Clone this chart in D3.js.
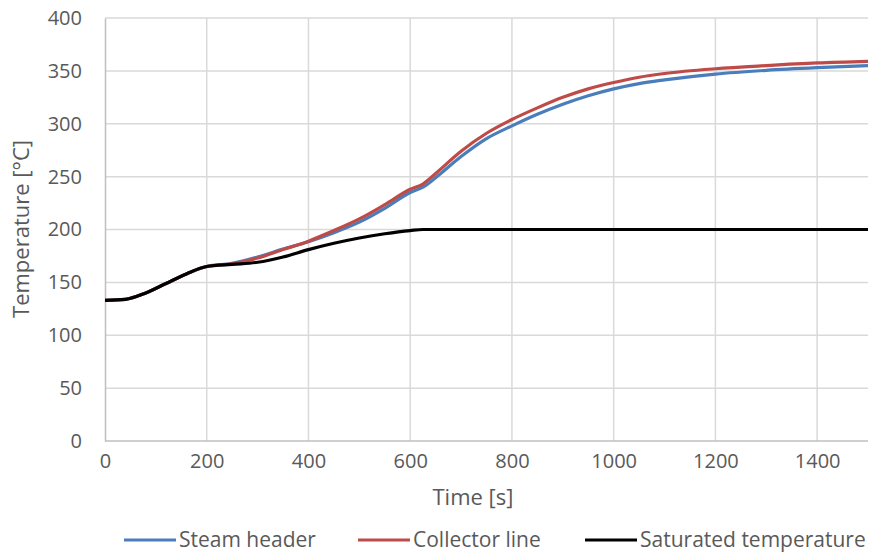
<!DOCTYPE html>
<html lang="en">
  <head>
    <meta charset="utf-8">
    <title>Temperature vs time</title>
    <script src="https://cdn.jsdelivr.net/npm/d3@7"></script>
    <style>
      body { margin: 0; background: #fff; }
      text { font-family: "Open Sans", sans-serif; fill: #595959; }
    </style>
  </head>
  <body>
    <div class="chart"></div>
    <script type="text/javascript">
      // data
      var times     = [0, 40, 80, 120, 160, 200, 250, 300, 350, 400, 450, 500, 550, 600, 625, 650, 700, 750, 800, 850, 900, 950, 1000, 1050, 1100, 1200, 1300, 1400, 1500];
      var steamHeader = [133, 134, 140, 149, 158, 165, 168, 174, 181.5, 188.5, 197, 207, 220, 235, 240, 249, 269, 286, 298, 309, 318.5, 326.5, 333, 338, 341.5, 347, 350.5, 353, 355];
      var collector   = [133, 134, 140, 149, 158, 165, 167.5, 173, 181, 189, 199, 210, 223.5, 238, 243, 253, 274, 291, 304, 315, 325, 333, 339, 344, 347.5, 352, 355, 357.5, 359];
      var saturated   = [133, 134, 140, 149, 158, 165, 167, 169, 174, 181, 187, 192, 196, 199, 200, 200, 200, 200, 200, 200, 200, 200, 200, 200, 200, 200, 200, 200, 200];
      var seriesNames = ["Steam header", "Collector line", "Saturated temperature"];
      var xTicks = [0, 200, 400, 600, 800, 1000, 1200, 1400];
      var yTicks = [0, 50, 100, 150, 200, 250, 300, 350, 400];

      var W = 872, H = 552;
      var margin = {top: 18, right: 2, bottom: 111, left: 105},
          width = W - margin.left - margin.right,
          height = H - margin.top - margin.bottom;

      var svg = d3.select(".chart").append("svg")
          .attr("width", W).attr("height", H);
      var g = svg.append("g")
          .attr("transform", "translate(" + margin.left + "," + margin.top + ")");

      var x = d3.scaleLinear().domain([0, 1500]).range([0, width - 2]);
      var y = d3.scaleLinear().domain([0, 400]).range([height, 0]);

      // grid
      g.append("g").selectAll("line").data(yTicks.slice(1)).enter().append("line")
          .attr("x1", 0).attr("x2", x(1500))
          .attr("y1", function(d) { return y(d); }).attr("y2", function(d) { return y(d); })
          .attr("stroke", "#d9d9d9").attr("stroke-width", 1.5);
      g.append("g").selectAll("line").data(xTicks.slice(1)).enter().append("line")
          .attr("x1", function(d) { return x(d); }).attr("x2", function(d) { return x(d); })
          .attr("y1", 0).attr("y2", height)
          .attr("stroke", "#d9d9d9").attr("stroke-width", 1.5);

      // axes
      var xAxis = g.append("g").attr("transform", "translate(0," + height + ")")
          .call(d3.axisBottom(x).tickValues(xTicks).tickFormat(d3.format("d")).tickSize(0).tickPadding(13));
      var yAxis = g.append("g")
          .call(d3.axisLeft(y).tickValues(yTicks).tickFormat(d3.format("d")).tickSize(0).tickPadding(23));
      [xAxis, yAxis].forEach(function(a) {
        a.select(".domain").attr("stroke", "#bfbfbf").attr("stroke-width", 1.5);
        a.selectAll("text").style("font-size", "20px").style("font-family", "'Open Sans', sans-serif").attr("fill", "#595959");
      });
      xAxis.select(".domain").attr("d", "M0,0H" + x(1500));

      // lines
      var colors = ["#4a7ebb", "#be4b48", "#000000"];
      var data = [steamHeader, collector, saturated];
      var line = d3.line()
          .x(function(d, i) { return x(times[i]); })
          .y(function(d) { return y(d); })
          .curve(d3.curveMonotoneX);
      g.append("g").selectAll("path").data(data).enter().append("path")
          .attr("d", line)
          .attr("fill", "none")
          .attr("stroke", function(d, i) { return colors[i]; })
          .attr("stroke-width", 3.2)
          .attr("stroke-linejoin", "round");

      // axis titles
      svg.append("text")
          .attr("x", 473).attr("y", 505)
          .attr("text-anchor", "middle")
          .style("font-size", "22px")
          .text("Time [s]");
      svg.append("text")
          .attr("transform", "translate(29,229) rotate(-90)")
          .attr("text-anchor", "middle")
          .style("font-size", "22px")
          .text("Temperature [°C]");

      // legend
      var legendX = [124, 358, 585];
      var legend = svg.append("g").selectAll("g").data(seriesNames).enter().append("g")
          .attr("transform", function(d, i) { return "translate(" + legendX[i] + ",540)"; });
      legend.append("line")
          .attr("x1", 0).attr("x2", 52)
          .attr("stroke", function(d, i) { return colors[i]; })
          .attr("stroke-width", 3.2);
      legend.append("text")
          .attr("x", 55).attr("y", 7)
          .style("font-size", "21px")
          .text(function(d) { return d; });
    </script>
  </body>
</html>
